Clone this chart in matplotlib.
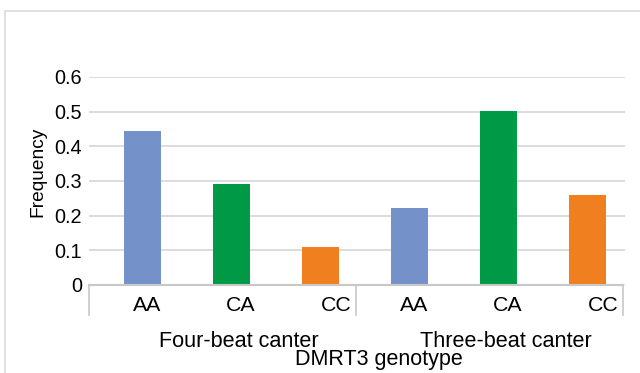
import matplotlib
matplotlib.use("Agg")
import matplotlib.pyplot as plt
import matplotlib.transforms as mtransforms
from matplotlib.patches import Rectangle

plt.rcParams['font.family'] = ['Liberation Sans', 'DejaVu Sans']

# data
groups = ["Four-beat canter", "Three-beat canter"]
genotypes = ["AA", "CA", "CC"]
four_beat = [0.444, 0.291, 0.110]
three_beat = [0.222, 0.501, 0.259]
colors = ["#7591c9", "#009a47", "#ef7f1f"]
yticks = [0, 0.1, 0.2, 0.3, 0.4, 0.5, 0.6]
ytick_labels = ["0", "0.1", "0.2", "0.3", "0.4", "0.5", "0.6"]

grid_col = "#d9d9d9"
axis_col = "#c8c8c8"

fig = plt.figure(figsize=(6.4, 3.73), dpi=100)
W, H = 640, 373
ax = fig.add_axes([89 / W, 1 - 285 / H, (625 - 89) / W, (285 - 77) / H])

values = four_beat + three_beat
x = list(range(len(values)))
ax.bar(x, values, width=0.41, color=colors * 2, zorder=3)

ax.set_xlim(-0.6, 5.42)
ax.set_ylim(0, 0.6)
ax.set_yticks(yticks)
ax.set_yticklabels(ytick_labels, fontsize=14.3)
ax.tick_params(axis='y', length=0, pad=5)
ax.set_xticks([])
ax.yaxis.grid(True, color=grid_col, linewidth=1.3, zorder=0)
for s in ["top", "right", "left", "bottom"]:
    ax.spines[s].set_visible(False)

trans = mtransforms.blended_transform_factory(ax.transData, ax.transAxes)
# category axis line and group separators
ax.plot([-0.6, 5.4], [0, 0], color=axis_col, lw=1.5, transform=trans, clip_on=False, zorder=4)
for sx in [-0.6, 2.4, 5.4]:
    ax.plot([sx, sx], [0, -0.145], color=axis_col, lw=1.2, transform=trans, clip_on=False)

label_shift = [0.05, 0.1, 0.175]
for g in range(len(groups)):
    for k, name in enumerate(genotypes):
        ax.text(g * 3 + k + label_shift[k], -0.1, name, transform=trans,
                ha="center", va="center", fontsize=15.3)
    ax.text(g * 3 + 1 + 0.085, -0.27, groups[g], transform=trans,
            ha="center", va="center", fontsize=15.6)

fig.text(379 / W, 1 - 360 / H, "DMRT3 genotype", ha="center", va="center", fontsize=15.5)
fig.text(38 / W, 1 - 172 / H, "Frequency", ha="center", va="center",
         rotation=90, fontsize=13.8)

# outer chart border
fig.patches.append(Rectangle((5 / W, -0.1), 1.2, 1 - 11 / H + 0.1, transform=fig.transFigure,
                             fill=False, edgecolor="#dcdcdc", linewidth=1.2))

fig.savefig("out.png", dpi=100)
